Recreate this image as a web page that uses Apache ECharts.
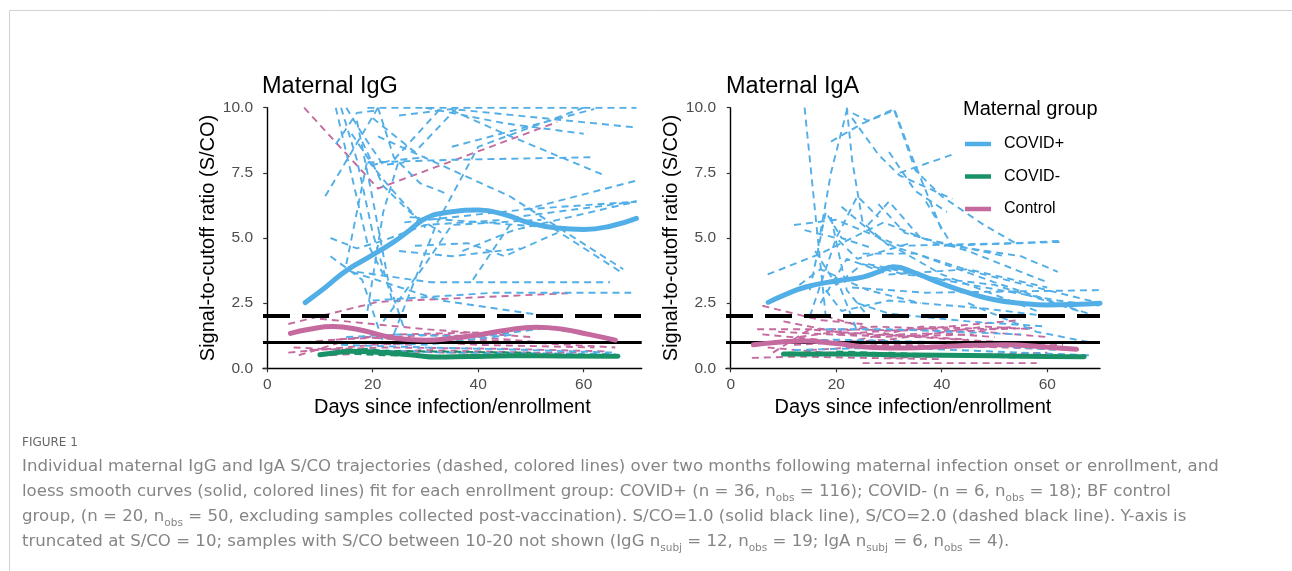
<!DOCTYPE html>
<html>
<head>
<meta charset="utf-8">
<script src="https://cdn.jsdelivr.net/npm/echarts@6/dist/echarts.min.js"></script>
<style>
html,body{margin:0;padding:0;background:#fff;}
#chart{width:1292px;height:571px;}
</style>
</head>
<body>
<div id="chart"></div>
<script>
// ---------- DATA ----------
const groups = ['COVID+', 'COVID-', 'Control'];
const xTicks = [0, 20, 40, 60];
const yTicks = [0, 2.5, 5, 7.5, 10];
const refSolid = 1.0;
const refDashed = 2.0;

// IgG individual trajectories: [day, S/CO]
const iggCovidPos = [
  [[19,10],[45,10],[70,10]],
  [[14,10],[17,8],[20,5.2],[24,2.4]],
  [[11,6.6],[16,8.3],[21,10]],
  [[13,10],[16,7.4],[19,4.8],[22,3.6]],
  [[21,10],[24,8.1],[29,7.1],[34,6.7]],
  [[35,9.9],[45,9.0],[64,7.4]],
  [[25,9.7],[35,9.95],[69.5,9.25]],
  [[19,7.9],[35,8.0],[62,8.1]],
  [[35,8.5],[62,9.95]],
  [[26,5.6],[49,6.1],[70,7.2]],
  [[49,6.1],[70,6.4]],
  [[17,3.7],[31,3.3],[65,3.3]],
  [[39,3.4],[47,5.8],[70,6.4]],
  [[20,2.6],[43,2.9],[69,2.9]],
  [[27,5.8],[54,5.4],[67,3.7]],
  [[16,3.7],[33,2.6],[55,1.95]],
  [[12,5.0],[17,4.6],[22,4.9],[30,5.5],[45,5.7]],
  [[15,4.0],[19,8.0],[23,7.0],[30,5.4]],
  [[17,9.5],[20,6.5],[23,3.3],[26,1.5]],
  [[12,4.3],[18,3.4],[22,1.0]],
  [[21,8.9],[46,6.6],[67.5,3.8]],
  [[22,1.8],[30,4.0],[35,5.5],[52,5.7]],
  [[24,1.3],[32,5.5],[40,8.5],[60,10]],
  [[30,10],[45,9.4],[60,9.0]],
  [[37,4.5],[46.7,5.3],[70,6.4]],
  [[15,1.2],[25,1.3],[40,1.2],[55,1.6]],
  [[14,0.9],[30,0.8],[50,0.7],[66,0.6]],
  [[18,0.7],[35,0.6],[66,0.55]],
  [[20,1.0],[30,0.9],[47,1.3]],
  [[25,4.5],[35,4.3],[48,4.6]],
  [[18,8.7],[22,7.0],[27,6.0],[33,5.2]],
  [[20,9.6],[28,8.3],[36,10]],
  [[15,10],[18,9.0],[22,7.8],[26,7.9]],
  [[16,9.0],[20,7.8],[24,8.0],[33,10]],
  [[13,8.6],[17,9.8],[21,9.9]],
  [[19,2.2],[22,6.0],[25,8.0],[30,8.1]],
  [[28,4.7],[38,4.8],[45,4.3],[55,5.2]]
];
const iggCovidNeg = [
  [[11,0.5],[19,0.75],[32,0.4],[60,0.5]],
  [[12,0.6],[22,0.5],[40,0.45],[66,0.5]],
  [[15,0.7],[30,0.65],[50,0.6]]
];
const iggControl = [
  [[7,10],[21,6.9],[55,9.45]],
  [[4,1.7],[21,2.55],[57,2.88]],
  [[4,0.6],[20,0.9],[40,1.1],[66,0.8]],
  [[7,1.0],[25,1.3],[45,1.4]],
  [[10,1.9],[30,1.5],[50,1.2]],
  [[5,0.8],[15,0.7],[35,0.6],[60,0.6]],
  [[12,0.5],[30,0.7],[50,0.6]],
  [[6,0.5],[14,1.0],[28,0.9]],
  [[18,1.2],[40,0.9],[62,0.8]],
  [[13,1.1],[33,1.3],[52,1.0]],
  [[8,0.7],[22,0.8],[44,0.75],[64,0.65]]
];
// loess smooth curves (IgG)
const iggSmoothPos = [[7.2,2.52],[11,3.1],[15,3.75],[20,4.35],[24,4.85],[27,5.3],[30,5.75],[34,5.98],[40,6.07],[45,5.9],[50,5.56],[55,5.38],[60,5.33],[65,5.45],[70,5.75]];
const iggSmoothNeg = [[10,0.52],[13,0.6],[16,0.65],[20,0.63],[24,0.57],[28,0.5],[32,0.43],[38,0.45],[46,0.48],[56,0.47],[66.5,0.46]];
const iggSmoothCtl = [[4.4,1.34],[8,1.5],[12.5,1.6],[17,1.5],[21,1.3],[25,1.13],[30,1.08],[35,1.15],[40,1.28],[45,1.45],[51,1.58],[56,1.5],[61,1.3],[66,1.08]];

// IgA individual trajectories
const igaCovidPos = [
  [[14,10],[16,6.0],[18,2.0]],
  [[17,5.2],[19,7.5],[22,9.9],[26,9.5],[31,9.95],[34,8.3],[40,5.3]],
  [[19,8.7],[25,9.4],[31,9.9]],
  [[23,9.6],[28,8.2],[32,7.4],[42,6.5]],
  [[32,7.5],[42,8.2]],
  [[7,3.6],[17,4.4],[29,5.6],[40,4.7],[55,4.8],[63,4.9]],
  [[12,5.5],[20,5.7],[32,4.7],[63,4.85]],
  [[23,3.1],[37,2.9],[70,3.0]],
  [[25,4.4],[35,4.4],[50,3.3],[70,1.95]],
  [[26,4.0],[40,3.4],[62,2.6],[70,2.4]],
  [[18,1.5],[30,1.5],[55,1.3]],
  [[12,0.7],[30,0.8],[68,0.5]],
  [[15,2.0],[20,5.0],[24,6.6],[28,5.8]],
  [[16,4.5],[20,3.2],[25,4.0],[33,3.6],[50,3.2],[66,2.2]],
  [[19,5.8],[22,3.0],[26,2.0]],
  [[20,3.5],[24,1.4]],
  [[28,6.3],[33,5.2],[45,4.5],[60,3.3]],
  [[21,6.2],[28,5.0],[40,3.6],[58,2.2]],
  [[30,8.3],[35,6.8],[41,6.0]],
  [[37,6.4],[42,4.7],[55,4.3],[62,3.7]],
  [[24,2.5],[30,2.1],[45,1.8],[60,1.6]],
  [[31,9.9],[35,7.6],[40,6.6],[48,5.5],[54,4.8]],
  [[13,3.2],[17,3.8],[26,3.0],[36,2.5]],
  [[45,2.5],[52,1.9],[58,1.4],[68,1.0]],
  [[8,1.0],[20,1.1],[40,1.0],[62,0.7]],
  [[17,2.5],[22,4.2],[30,3.6],[45,3.8],[60,3.1]],
  [[32,4.6],[46,3.7],[70,2.5]],
  [[15,3.0],[18,6.0],[21,5.0],[27,4.6]],
  [[22,10],[23,8],[25,5.6],[30,4.7]],
  [[14,5.3],[20,5.0],[24,4.2],[34,4.8]],
  [[18,3.0],[21,2.2],[30,2.6],[48,2.3],[60,2.0]],
  [[26,5.5],[30,6.4],[36,5.0],[52,4.3]]
];
const igaCovidNeg = [
  [[11,0.6],[25,0.55],[45,0.45],[66,0.45]],
  [[14,0.5],[30,0.6],[55,0.4]],
  [[20,0.65],[40,0.5],[62,0.5]]
];
const igaControl = [
  [[6,2.4],[12,2.1],[17,1.85],[25,1.7]],
  [[5,1.5],[20,1.5],[33,1.45],[55,1.85]],
  [[25,0.2],[42,0.2],[58,0.2]],
  [[6,1.3],[22,1.0],[38,0.8],[63,0.9]],
  [[4,0.4],[13,0.45],[25,0.4],[40,0.35]],
  [[8,0.6],[15,1.5],[28,1.2],[46,1.3]],
  [[10,1.8],[20,1.4],[35,1.2],[52,1.0]],
  [[12,0.9],[30,1.1],[48,1.6],[57,1.5]],
  [[7,0.8],[18,0.6],[35,0.55],[58,0.5]],
  [[13,1.2],[27,1.6],[42,1.5],[60,1.2]],
  [[15,0.7],[32,0.9],[52,0.8],[66,0.7]],
  [[18,2.0],[30,1.3],[45,1.1]],
  [[22,1.0],[36,1.6],[50,1.5],[58,1.55]],
  [[5,0.9],[11,1.1],[24,0.9]],
  [[30,0.4],[45,0.5],[60,0.6]],
  [[20,1.3],[34,1.5],[44,1.4],[54,1.6]],
  [[9,1.4],[24,1.25],[40,1.35],[50,1.2]]
];
const igaSmoothPos = [[7.1,2.53],[10,2.8],[14.4,3.13],[20,3.35],[25,3.5],[28,3.7],[30.8,3.9],[35,3.65],[40,3.25],[45,2.9],[50,2.63],[55,2.5],[60,2.43],[65,2.45],[70,2.5]];
const igaSmoothNeg = [[10,0.55],[20,0.55],[30,0.52],[40,0.5],[50,0.48],[60,0.45],[67,0.44]];
const igaSmoothCtl = [[4.3,0.9],[9,1.0],[14,1.05],[20,0.95],[27,0.8],[33,0.78],[40,0.83],[46,0.88],[52,0.9],[59,0.83],[65.5,0.73]];

const captionLines = [
  '{n|Individual maternal IgG and IgA S/CO trajectories (dashed, colored lines) over two months following maternal infection onset or enrollment, and}',
  '{n|loess smooth curves (solid, colored lines) fit for each enrollment group: COVID+ (n = 36, n}{s|obs}{n| = 116); COVID- (n = 6, n}{s|obs}{n| = 18); BF control}',
  '{n|group, (n = 20, n}{s|obs}{n| = 50, excluding samples collected post-vaccination). S/CO=1.0 (solid black line), S/CO=2.0 (dashed black line). Y-axis is}',
  '{n|truncated at S/CO = 10; samples with S/CO between 10-20 not shown (IgG n}{s|subj}{n| = 12, n}{s|obs}{n| = 19; IgA n}{s|subj}{n| = 6, n}{s|obs}{n| = 4).}'
];

// ---------- STYLE ----------
const colors = {'COVID+': '#52AEE6', 'COVID-': '#1a9267', 'Control': '#C46A9F'};
const FONT = 'Liberation Sans';
const CAPFONT = 'DejaVu Sans';

const chart = echarts.init(document.getElementById('chart'), null, {renderer: 'canvas'});

function trajSeries(list, group, idx) {
  return list.map(pts => ({
    type: 'line', name: group, xAxisIndex: idx, yAxisIndex: idx,
    data: pts, symbol: 'none', silent: true, animation: false, z: 2,
    lineStyle: {color: colors[group], width: 1.9, type: [7, 5]}
  }));
}
function smoothSeries(pts, group, idx) {
  return {
    type: 'line', name: group, xAxisIndex: idx, yAxisIndex: idx,
    data: pts, symbol: 'none', smooth: 0.5, silent: true, animation: false, z: 5,
    lineStyle: {color: colors[group], width: 5, cap: 'round'}
  };
}
function refSeries(idx) {
  return {
    type: 'line', xAxisIndex: idx, yAxisIndex: idx, data: [], silent: true, animation: false, z: 4,
    markLine: {
      silent: true, symbol: 'none', animation: false, label: {show: false},
      data: [
        {yAxis: refSolid, lineStyle: {color: '#000', width: 3, type: 'solid'}},
        {yAxis: refDashed, lineStyle: {color: '#000', width: 4, type: [27, 12]}}
      ]
    }
  };
}

const series = [].concat(
  trajSeries(iggControl, 'Control', 0),
  trajSeries(iggCovidPos, 'COVID+', 0),
  trajSeries(iggCovidNeg, 'COVID-', 0),
  [refSeries(0)],
  [smoothSeries(iggSmoothPos, 'COVID+', 0), smoothSeries(iggSmoothCtl, 'Control', 0), smoothSeries(iggSmoothNeg, 'COVID-', 0)],
  trajSeries(igaControl, 'Control', 1),
  trajSeries(igaCovidPos, 'COVID+', 1),
  trajSeries(igaCovidNeg, 'COVID-', 1),
  [refSeries(1)],
  [smoothSeries(igaSmoothPos, 'COVID+', 1), smoothSeries(igaSmoothCtl, 'Control', 1), smoothSeries(igaSmoothNeg, 'COVID-', 1)]
);

function xAxisCfg(idx, min, max) {
  return {
    type: 'value', gridIndex: idx, min: min, max: max,
    name: 'Days since infection/enrollment', nameLocation: 'middle', nameGap: 29,
    nameTextStyle: {fontFamily: FONT, fontSize: 20, color: '#000'},
    axisLine: {show: true, onZero: false, lineStyle: {color: '#000', width: 1.4}},
    axisTick: {show: true, customValues: xTicks, length: 4, lineStyle: {color: '#333', width: 1.2}},
    axisLabel: {customValues: xTicks, fontFamily: FONT, fontSize: 15.5, color: '#4d4d4d', margin: 8},
    splitLine: {show: false}
  };
}
function yAxisCfg(idx) {
  return {
    type: 'value', gridIndex: idx, min: 0, max: 10, interval: 2.5,
    name: 'Signal-to-cutoff ratio (S/CO)', nameLocation: 'middle', nameGap: 44, nameRotate: 90,
    nameTextStyle: {fontFamily: FONT, fontSize: 20, color: '#000'},
    axisLine: {show: true, lineStyle: {color: '#000', width: 1.4}},
    axisTick: {show: true, length: 4, lineStyle: {color: '#333', width: 1.2}},
    axisLabel: {fontFamily: FONT, fontSize: 15.5, color: '#4d4d4d', margin: 10, formatter: v => v.toFixed(1)},
    splitLine: {show: false}
  };
}

const graphics = [
  {type: 'rect', shape: {x: 9.5, y: 10.5, width: 1320, height: 620}, style: {fill: 'none', stroke: '#d2d2d2', lineWidth: 1}, silent: true, z: -1},
  {type: 'text', x: 22, y: 443, style: {text: 'FIGURE 1', fontFamily: CAPFONT, fontSize: 12, fill: '#666', verticalAlign: 'middle'}, silent: true}
];
captionLines.forEach((t, i) => {
  graphics.push({
    type: 'text', x: 22, y: 467 + i * 25, silent: true,
    style: {
      text: t, verticalAlign: 'middle', fill: '#808080',
      rich: {
        n: {fontFamily: CAPFONT, fontSize: 16.6, lineHeight: 24, fill: '#858585'},
        s: {fontFamily: CAPFONT, fontSize: 10.5, lineHeight: 10, verticalAlign: 'bottom', fill: '#858585'}
      }
    }
  });
});

chart.setOption({
  backgroundColor: '#fff',
  animation: false,
  title: [
    {text: 'Maternal IgG', left: 262, top: 75, textStyle: {fontFamily: FONT, fontSize: 23.5, fontWeight: 'normal', color: '#000'}, padding: 0},
    {text: 'Maternal IgA', left: 726, top: 75, textStyle: {fontFamily: FONT, fontSize: 23.5, fontWeight: 'normal', color: '#000'}, padding: 0},
    {text: 'Maternal group', left: 963, top: 99, textStyle: {fontFamily: FONT, fontSize: 20, fontWeight: 'normal', color: '#000'}, padding: 0}
  ],
  legend: {
    orient: 'vertical', left: 965, top: 136, padding: 0,
    itemWidth: 26, itemHeight: 4.5, itemGap: 16.5,
    textStyle: {fontFamily: FONT, fontSize: 16, color: '#000', padding: [0, 0, 0, 8]},
    selectedMode: false,
    data: groups.map(g => ({name: g, icon: 'rect', itemStyle: {color: colors[g]}}))
  },
  grid: [
    {left: 263, top: 107.7, width: 378.7, height: 260.6},
    {left: 726, top: 107.7, width: 374, height: 260.6}
  ],
  xAxis: [xAxisCfg(0, -0.8, 71), xAxisCfg(1, -0.9, 70)],
  yAxis: [yAxisCfg(0), yAxisCfg(1)],
  series: series,
  graphic: graphics
});
</script>
</body>
</html>
